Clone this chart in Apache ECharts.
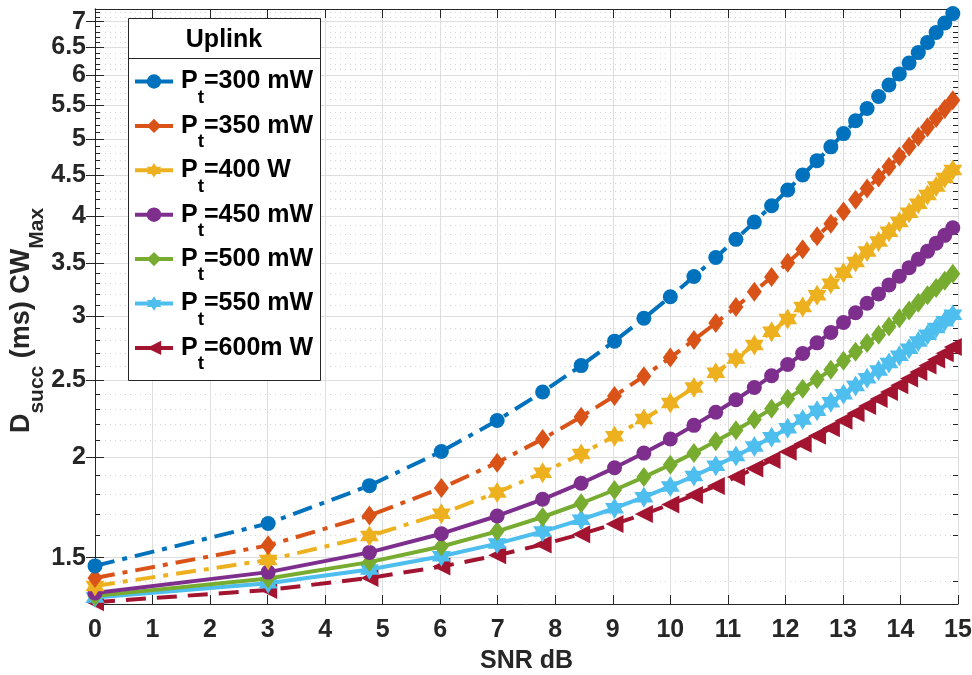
<!DOCTYPE html>
<html>
<head>
<meta charset="utf-8">
<script src="https://cdn.jsdelivr.net/npm/echarts@6/dist/echarts.min.js"></script>
<style>html,body{margin:0;padding:0;background:#fff;}#c{width:972px;height:675px;}</style>
</head>
<body>
<div id="c"></div>
<script>
// ---- data ----
var snrDb = [0, 3.01, 4.77, 6.02, 6.99, 7.78, 8.45, 9.03, 9.54, 10, 10.41, 10.79, 11.14, 11.46, 11.76, 12.04, 12.30, 12.55, 12.79, 13.01, 13.22, 13.42, 13.62, 13.80, 13.98, 14.15, 14.31, 14.47, 14.62, 14.77, 14.91];
var powerLabels = ['300 mW', '350 mW', '400 W', '450 mW', '500 mW', '550 mW', '600m W'];
var pt300 = [1.465, 1.655, 1.845, 2.035, 2.225, 2.415, 2.605, 2.795, 2.985, 3.175, 3.365, 3.555, 3.745, 3.935, 4.125, 4.315, 4.505, 4.695, 4.885, 5.075, 5.265, 5.455, 5.645, 5.835, 6.025, 6.215, 6.405, 6.595, 6.785, 6.975, 7.165];
var pt350 = [1.415, 1.554, 1.693, 1.832, 1.971, 2.110, 2.249, 2.388, 2.527, 2.666, 2.805, 2.944, 3.083, 3.222, 3.361, 3.500, 3.639, 3.778, 3.917, 4.056, 4.195, 4.334, 4.473, 4.612, 4.751, 4.890, 5.029, 5.168, 5.307, 5.446, 5.585];
var pt400 = [1.383, 1.490, 1.596, 1.702, 1.809, 1.915, 2.021, 2.127, 2.234, 2.340, 2.446, 2.553, 2.659, 2.765, 2.872, 2.978, 3.084, 3.190, 3.297, 3.403, 3.509, 3.616, 3.722, 3.828, 3.935, 4.041, 4.147, 4.253, 4.360, 4.466, 4.572];
var pt450 = [1.355, 1.439, 1.523, 1.607, 1.691, 1.774, 1.858, 1.942, 2.026, 2.110, 2.194, 2.278, 2.362, 2.446, 2.530, 2.613, 2.697, 2.781, 2.865, 2.949, 3.033, 3.117, 3.201, 3.285, 3.369, 3.452, 3.536, 3.620, 3.704, 3.788, 3.872];
var pt500 = [1.344, 1.413, 1.481, 1.549, 1.618, 1.686, 1.754, 1.822, 1.891, 1.959, 2.027, 2.096, 2.164, 2.232, 2.301, 2.369, 2.437, 2.505, 2.574, 2.642, 2.710, 2.779, 2.847, 2.915, 2.984, 3.052, 3.120, 3.188, 3.257, 3.325, 3.393];
var pt550 = [1.338, 1.394, 1.450, 1.506, 1.562, 1.617, 1.673, 1.729, 1.785, 1.841, 1.897, 1.953, 2.009, 2.065, 2.121, 2.176, 2.232, 2.288, 2.344, 2.400, 2.456, 2.512, 2.568, 2.624, 2.680, 2.735, 2.791, 2.847, 2.903, 2.959, 3.015];
var pt600 = [1.320, 1.367, 1.415, 1.462, 1.510, 1.558, 1.605, 1.653, 1.700, 1.748, 1.796, 1.843, 1.891, 1.938, 1.986, 2.034, 2.081, 2.129, 2.176, 2.224, 2.272, 2.319, 2.367, 2.414, 2.462, 2.510, 2.557, 2.605, 2.652, 2.700, 2.748];
var xTicks = [0, 1, 2, 3, 4, 5, 6, 7, 8, 9, 10, 11, 12, 13, 14, 15];
var yMajor = [1.5, 2, 2.5, 3, 3.5, 4, 4.5, 5, 5.5, 6, 6.5, 7];
var yMinor = [1.4, 1.6, 1.7, 1.8, 1.9, 2.1, 2.2, 2.3, 2.4, 2.6, 2.7, 2.8, 2.9, 3.1, 3.2, 3.3, 3.4, 3.6, 3.7, 3.8, 3.9, 4.1, 4.2, 4.3, 4.4, 4.6, 4.7, 4.8, 4.9, 5.1, 5.2, 5.3, 5.4, 5.6, 5.7, 5.8, 5.9, 6.1, 6.2, 6.3, 6.4, 6.6, 6.7, 6.8, 6.9, 7.1, 7.2];
var allSeries = [pt300, pt350, pt400, pt450, pt500, pt550, pt600];

// ---- styles ----
var FONT = '"Liberation Sans", Arial, Helvetica, sans-serif';
var AX = '#262626';
var colors = ['#0072BD', '#D95319', '#EDB120', '#7E2F8E', '#77AC30', '#4DBEEE', '#A2142F'];
var hexagram = 'path://M50 0 L64.4 25 L93.3 25 L78.9 50 L93.3 75 L64.4 75 L50 100 L35.6 75 L6.7 75 L21.1 50 L6.7 25 L35.6 25 Z';
var symbols = ['circle', 'diamond', hexagram, 'circle', 'diamond', hexagram, 'triangle'];
var symSizes = [15, [15, 20], [19, 21], 15, [15, 20], [19, 21], [18, 18]];
var symRot = [0, 0, 0, 0, 0, 0, 90];
var dashes = [[20, 8, 5, 8], [20, 8, 5, 8], [20, 8, 5, 8], 'solid', 'solid', 'solid', [20, 11]];
var YMIN = 1.313, YMAX = 7.26;

function seriesName(i) { return 'Pt=' + powerLabels[i]; }

var series = allSeries.map(function (vals, i) {
  return {
    name: seriesName(i),
    type: 'line',
    xAxisIndex: 0,
    yAxisIndex: 0,
    data: vals.map(function (v, j) { return [snrDb[j], v]; }),
    symbol: symbols[i],
    symbolSize: symSizes[i],
    symbolRotate: symRot[i],
    showAllSymbol: true,
    smooth: false,
    animation: false,
    z: 2 + (7 - i) * 0.01,
    lineStyle: { color: colors[i], width: 4, type: dashes[i] },
    itemStyle: { color: colors[i], borderWidth: 0 },
    emphasis: { disabled: true }
  };
});

function yAxisDef(pos, vals, major) {
  return {
    type: 'log',
    position: pos,
    min: YMIN,
    max: YMAX,
    logBase: 10,
    alignTicks: false,
    axisLine: { show: major, lineStyle: { color: AX, width: 1 } },
    axisTick: { show: true, inside: true, length: major ? 9 : 5, customValues: vals, lineStyle: { color: AX, width: 1 } },
    axisLabel: { show: major && pos === 'left', customValues: vals, fontFamily: FONT, fontWeight: 'bold', fontSize: 25, lineHeight: 20,
      color: AX, margin: 9, hideOverlap: false, showMinLabel: true, showMaxLabel: true,
      formatter: function (v) { return String(Math.round(v * 10) / 10); } },
    splitLine: { show: pos === 'left', lineStyle: major ? { color: '#dedede', width: 1, type: 'solid' } : { color: '#d4d4d4', width: 1, type: [1, 4] } },
    minorTick: { show: false },
    minorSplitLine: { show: false }
  };
}

var yAxes = [
  yAxisDef('left', yMajor, true),
  yAxisDef('right', yMajor, true),
  yAxisDef('left', yMinor, false),
  yAxisDef('right', yMinor, false)
];
yAxes[0].name = '{a|D}{b|succ}{a| (ms) CW}{c|Max}';
yAxes[0].nameLocation = 'middle';
yAxes[0].nameRotate = 90;
yAxes[0].nameGap = 60;
yAxes[0].nameMoveOverlap = false;
yAxes[0].nameTextStyle = {
  fontFamily: FONT, fontWeight: 'bold', color: AX,
  rich: {
    a: { fontFamily: FONT, fontWeight: 'bold', fontSize: 27, color: AX, verticalAlign: 'middle' },
    b: { fontFamily: FONT, fontWeight: 'bold', fontSize: 21, lineHeight: 12, color: AX, verticalAlign: 'middle', padding: [32, 0, 0, 0] },
    c: { fontFamily: FONT, fontWeight: 'bold', fontSize: 21, lineHeight: 12, color: AX, verticalAlign: 'middle', padding: [32, 28, 0, 0] }
  }
};

var option = {
  backgroundColor: '#ffffff',
  animation: false,
  grid: { left: 95, right: 14, top: 9, bottom: 71, containLabel: false, outerBoundsMode: 'none' },
  xAxis: [
    {
      type: 'value', min: 0, max: 15, interval: 1, position: 'bottom',
      axisLine: { show: true, onZero: false, lineStyle: { color: AX, width: 1 } },
      axisTick: { inside: true, length: 9, lineStyle: { color: AX } },
      axisLabel: { fontFamily: FONT, fontWeight: 'bold', fontSize: 25, color: AX, margin: 14, hideOverlap: false,
        formatter: function (v) { return xTicks.indexOf(v) >= 0 ? String(v) : ''; } },
      splitLine: { show: true, lineStyle: { color: '#dedede', width: 1 } },
      name: 'SNR dB', nameLocation: 'middle', nameGap: 45, nameMoveOverlap: false,
      nameTextStyle: { fontFamily: FONT, fontWeight: 'bold', fontSize: 25, color: AX }
    },
    {
      type: 'value', min: 0, max: 15, interval: 1, position: 'top',
      axisLine: { show: true, onZero: false, lineStyle: { color: AX, width: 1 } },
      axisTick: { inside: true, length: 9, lineStyle: { color: AX } },
      axisLabel: { show: false },
      splitLine: { show: false }
    }
  ],
  yAxis: yAxes,
  legend: {
    orient: 'vertical',
    left: 133,
    top: 56,
    padding: 0,
    itemGap: -6.6,
    itemWidth: 38,
    itemHeight: 18,
    z: 10,
    selectedMode: false,
    data: allSeries.map(function (v, i) { return seriesName(i); }),
    lineStyle: { type: 'solid', width: 4 },
    formatter: function (name) {
      var i = allSeries.findIndex(function (v, k) { return seriesName(k) === name; });
      return '{p|P}{s|t}{q|=' + powerLabels[i] + '}';
    },
    textStyle: {
      fontFamily: FONT, fontWeight: 'bold', fontSize: 25, color: '#000',
      rich: {
        p: { fontFamily: FONT, fontWeight: 'bold', fontSize: 25, color: '#000', verticalAlign: 'middle', padding: [0, 0, 0, 3] },
        q: { fontFamily: FONT, fontWeight: 'bold', fontSize: 25, color: '#000', verticalAlign: 'middle' },
        s: { fontFamily: FONT, fontWeight: 'bold', fontSize: 19, lineHeight: 12, color: '#000', verticalAlign: 'middle', padding: [32, 0, 0, 0] }
      }
    }
  },
  graphic: [
    { type: 'rect', z: 8, shape: { x: 128.5, y: 18.5, width: 192, height: 362 }, style: { fill: '#ffffff', stroke: AX, lineWidth: 1 } },
    { type: 'line', z: 9, shape: { x1: 128.5, y1: 58.5, x2: 320.5, y2: 58.5 }, style: { stroke: AX, lineWidth: 1 } },
    { type: 'text', z: 9, x: 224, y: 40, style: { text: 'Uplink', fontFamily: FONT, fontWeight: 'bold', fontSize: 25, fill: '#000', textAlign: 'center', textVerticalAlign: 'middle' } }
  ],
  series: series
};

var chart = echarts.init(document.getElementById('c'), null, { renderer: 'canvas' });
chart.setOption(option);
</script>
</body>
</html>
